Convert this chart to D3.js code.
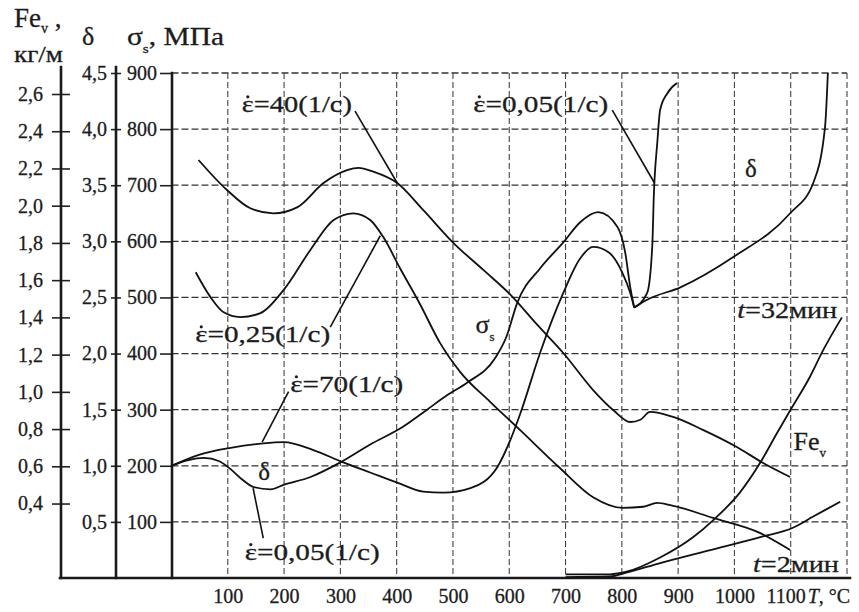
<!DOCTYPE html>
<html>
<head>
<meta charset="utf-8">
<script src="https://cdn.jsdelivr.net/npm/d3@7"></script>
<style>
  body { margin: 0; background: #fff; }
  svg { display: block; }
  text { font-family: "Liberation Serif", "DejaVu Serif", serif; fill: #1c1c1c;
         stroke: #1c1c1c; stroke-width: 0.3px; }
</style>
</head>
<body>
<svg id="chart" width="859" height="612"></svg>
<script>
// Temperature ticks, °C
const temperatureTicks = [100, 200, 300, 400, 500, 600, 700, 800, 900, 1000, 1100];
// Flow stress ticks, MPa
const stressTicks = [100, 200, 300, 400, 500, 600, 700, 800, 900];
// Relative elongation ticks
const elongationTicks = [0.5, 1.0, 1.5, 2.0, 2.5, 3.0, 3.5, 4.0, 4.5];
// Scale loss ticks, kg/m
const scaleTicks = [0.4, 0.6, 0.8, 1.0, 1.2, 1.4, 1.6, 1.8, 2.0, 2.2, 2.4, 2.6];

// σs (MPa) at strain rate 40 1/s
const stressRate40 = [[48,745],[99,691],[140,659],[181,650],[224,661],[270,704],[312,727],[332,731],
  [359,724],[401,704],[447,656],[501,597],[554,549],[604,503],[650,451],[696,401],[749,335],[785,299],
  [815,278],[833,282],[850,296],[891,287],[944,264],[1005,233],[1051,205],[1099,180]];
// σs (MPa) at strain rate 0.25 1/s
const stressRate025 = [[43,545],[69,501],[92,474],[122,465],[158,472],[199,513],[247,585],[288,638],
  [323,650],[353,638],[376,608],[406,552],[442,487],[477,419],[513,367],[566,314],[619,264],[690,196],
  [749,144],[802,125],[838,127],[863,134],[886,130],[962,107],[1046,80],[1099,50]];
// δ at strain rate 70 1/s
const elongRate70 = [[0,1.0],[50,1.10],[105,1.16],[163,1.20],[199,1.21],[252,1.14],[305,1.03],[353,0.94],
  [401,0.85],[447,0.77],[483,0.76],[531,0.80],[579,0.99],[602,1.23],[620,1.47],[655,2.01],[696,2.54],
  [725,2.84],[749,2.95],[777,2.90],[801,2.72],[815,2.54],[822,2.41],[845,2.48],[904,2.59],[998,2.86],
  [1099,3.25],[1140,3.52],[1161,4.02],[1166,4.5]];
// δ at strain rate 0.05 1/s
const elongRate005 = [[0,1.0],[30,1.05],[57,1.07],[85,1.04],[105,0.97],[125,0.88],[146,0.81],[176,0.79],
  [199,0.83],[247,0.90],[300,1.03],[353,1.19],[412,1.35],[454,1.50],[490,1.63],[525,1.74],[575,1.96],
  [595,2.15],[614,2.45],[655,2.76],[696,2.99],[726,3.17],[758,3.26],[792,3.13],[806,2.90],[815,2.59],
  [822,2.41],[845,2.54],[854,2.95],[857,3.43],[863,3.88],[868,4.17],[881,4.32],[898,4.41]];
// Fe_v (kg/m), holding time 32 min
const scaleLoss32 = [[700,0.02],[779,0.02],[810,0.035],[868,0.11],[927,0.22],[962,0.31],[1010,0.46],
  [1046,0.62],[1076,0.78],[1099,0.90],[1134,1.08],[1157,1.22],[1191,1.40]];
// Fe_v (kg/m), holding time 2 min
const scaleLoss2 = [[700,0.005],[779,0.008],[810,0.03],[868,0.08],[957,0.15],[1046,0.22],[1104,0.27],
  [1140,0.33],[1188,0.41]];
// Temperature where both δ curves meet in a sharp cusp
const cuspTemperature = 822;

const svg = d3.select("#chart");
const x  = d3.scaleLinear().domain([0, 1200]).range([171.5, 847]);
const yS = d3.scaleLinear().domain([0, 900]).range([578, 73]);
const yD = d3.scaleLinear().domain([0, 4.5]).range([578, 73]);
const yF = d3.scaleLinear().domain([0, 2.6]).range([578, 94]);
const comma = d => d.toFixed(1).replace(".", ",");
const FONT = "Liberation Serif";

// grid
const grid = svg.append("g");
grid.selectAll("line.h").data(stressTicks).join("line")
  .attr("x1", x(0)).attr("x2", x(1200)).attr("y1", d => yS(d)).attr("y2", d => yS(d))
  .attr("stroke", "#333").attr("stroke-width", 1.3).attr("stroke-dasharray", "7,3");
grid.selectAll("line.v").data(temperatureTicks.concat([1200])).join("line")
  .attr("x1", d => x(d)).attr("x2", d => x(d)).attr("y1", yS(900)).attr("y2", yS(0))
  .attr("stroke", "#444").attr("stroke-width", 1.1).attr("stroke-dasharray", "6,3");

// left axes
function styleAxis(g, left, right) {
  g.attr("font-family", FONT);
  g.select(".domain").remove();
  g.selectAll(".tick line").attr("x1", -left).attr("x2", right)
    .attr("stroke", "#222").attr("stroke-width", 1.6);
  g.selectAll(".tick text").attr("font-size", 20).attr("fill", "#1c1c1c");
}
const axFe = svg.append("g").attr("transform", "translate(61,0)")
  .call(d3.axisLeft(yF).tickValues(scaleTicks).tickSize(9).tickPadding(9).tickFormat(comma));
styleAxis(axFe, 9, 9);
const axD = svg.append("g").attr("transform", "translate(116,0)")
  .call(d3.axisLeft(yD).tickValues(elongationTicks).tickSize(5).tickPadding(4).tickFormat(comma));
styleAxis(axD, 5, 5);
const axS = svg.append("g").attr("transform", "translate(172,0)")
  .call(d3.axisLeft(yS).tickValues(stressTicks).tickSize(12).tickPadding(3).tickFormat(d => String(d)));
styleAxis(axS, 12, 0);

// bottom axis labels
const axT = svg.append("g").attr("transform", `translate(0,${yS(0)})`)
  .call(d3.axisBottom(x).tickValues(temperatureTicks).tickSize(0).tickPadding(11).tickFormat(d => String(d)));
axT.attr("font-family", FONT);
axT.select(".domain").remove();
axT.selectAll(".tick text").attr("font-size", 20).attr("fill", "#1c1c1c")
  .attr("dx", d => d === 1100 ? -5 : 0);
const tUnit = svg.append("text").attr("x", x(1100) + 17).attr("y", 603).attr("font-size", 20);
tUnit.append("tspan").attr("font-style", "italic").text("T");
tUnit.append("tspan").text(", °C");

// axis lines
const axisLines = [[61, 67, 61, 578], [116, 67, 116, 578], [172, yS(900), 172, 578], [60, 578, 850, 578]];
svg.append("g").selectAll("line").data(axisLines).join("line")
  .attr("x1", d => d[0]).attr("y1", d => d[1]).attr("x2", d => d[2]).attr("y2", d => d[3])
  .attr("stroke", "#1a1a1a").attr("stroke-width", 2.6).attr("stroke-linecap", "square");

// axis titles
const t1 = svg.append("text").attr("x", 14).attr("y", 27).attr("font-size", 27);
t1.append("tspan").text("Fe");
t1.append("tspan").attr("font-size", 14).attr("dy", 6).text("v");
t1.append("tspan").attr("dy", -6).text(" ,");
svg.append("text").attr("x", 14).attr("y", 62).attr("font-size", 23).attr("textLength", 49)
  .attr("lengthAdjust", "spacingAndGlyphs").text("кг/м");
svg.append("text").attr("x", 82).attr("y", 45).attr("font-size", 26).text("δ");
const t3 = svg.append("text").attr("x", 127).attr("y", 45).attr("font-size", 25)
  .attr("textLength", 97).attr("lengthAdjust", "spacingAndGlyphs");
t3.append("tspan").text("σ");
t3.append("tspan").attr("font-size", 13).attr("dy", 8).text("s");
t3.append("tspan").attr("dy", -8).text(", МПа");

// curves
const line = yScale => d3.line().x(d => x(d[0])).y(d => yScale(d[1])).curve(d3.curveMonotoneX);
function splitAtCusp(pts) {
  const i = pts.findIndex(p => p[0] === cuspTemperature);
  return i < 0 ? [pts] : [pts.slice(0, i + 1), pts.slice(i)];
}
const curves = [
  {pts: stressRate40, y: yS}, {pts: stressRate025, y: yS},
  {pts: elongRate70, y: yD}, {pts: elongRate005, y: yD},
  {pts: scaleLoss32, y: yF}, {pts: scaleLoss2, y: yF}
];
const cg = svg.append("g").attr("fill", "none").attr("stroke", "#111").attr("stroke-width", 1.8);
curves.forEach(c => splitAtCusp(c.pts).forEach(seg =>
  cg.append("path").attr("d", line(c.y)(seg))));

// strain-rate annotations, placed in (°C, MPa-equivalent) units
const notes = [
  {rate: "40", T: 125, s: 830, w: 110, lead: [[326, 832], [401, 704]]},
  {rate: "0,25", T: 42, s: 420, w: 135, lead: [[282, 447], [371, 610]]},
  {rate: "70", T: 211, s: 331, w: 113, lead: [[208, 332], [161, 242]]},
  {rate: "0,05", T: 130, s: 32, w: 135, lead: [[163, 71], [145, 160]]},
  {rate: "0,05", T: 536, s: 830, w: 135, lead: [[783, 834], [858, 704]]}
];
notes.forEach(n => {
  const t = svg.append("text").attr("x", x(n.T)).attr("y", yS(n.s)).attr("font-size", 24)
    .attr("textLength", n.w).attr("lengthAdjust", "spacingAndGlyphs")
    .text("ε=" + n.rate + "(1/с)");
  // dot over ε (time derivative)
  const box = t.node().getExtentOfChar(0);
  svg.append("circle").attr("cx", box.x + box.width / 2).attr("cy", yS(n.s) - 15.5)
    .attr("r", 1.6).attr("fill", "#1c1c1c");
  svg.append("line").attr("x1", x(n.lead[0][0])).attr("y1", yS(n.lead[0][1]))
    .attr("x2", x(n.lead[1][0])).attr("y2", yS(n.lead[1][1]))
    .attr("stroke", "#111").attr("stroke-width", 1.6);
});

svg.append("text").attr("x", x(154)).attr("y", yS(175)).attr("font-size", 25).text("δ");
svg.append("text").attr("x", x(1019)).attr("y", yS(715)).attr("font-size", 25).text("δ");
const sg = svg.append("text").attr("x", x(540)).attr("y", yS(437)).attr("font-size", 26);
sg.append("tspan").text("σ");
sg.append("tspan").attr("font-size", 13).attr("dy", 8).text("s");
const fe = svg.append("text").attr("x", x(1105)).attr("y", yS(228)).attr("font-size", 26);
fe.append("tspan").text("Fe");
fe.append("tspan").attr("font-size", 13).attr("dy", 7).text("v");
const l32 = svg.append("text").attr("x", x(1005)).attr("y", yS(463)).attr("font-size", 24)
  .attr("textLength", 100).attr("lengthAdjust", "spacingAndGlyphs");
l32.append("tspan").attr("font-style", "italic").text("t");
l32.append("tspan").text("=32мин");
const l2 = svg.append("text").attr("x", x(1033)).attr("y", yS(11)).attr("font-size", 24)
  .attr("textLength", 86).attr("lengthAdjust", "spacingAndGlyphs");
l2.append("tspan").attr("font-style", "italic").text("t");
l2.append("tspan").text("=2мин");
</script>
</body>
</html>
